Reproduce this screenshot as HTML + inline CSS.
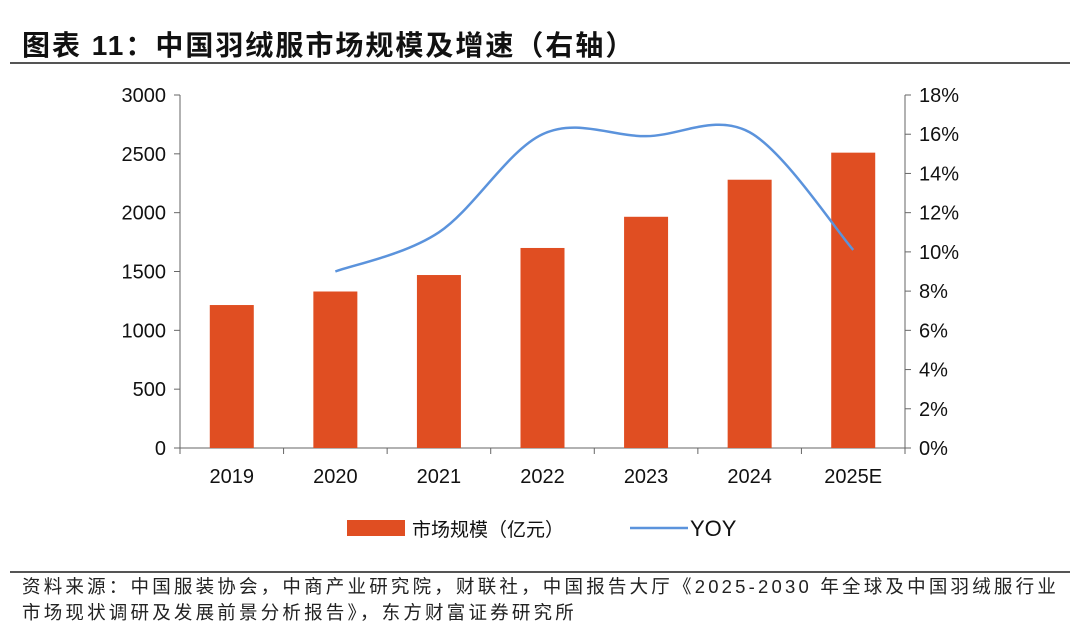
<!DOCTYPE html>
<html><head><meta charset="utf-8">
<style>
html,body{margin:0;padding:0;background:#fff;}
body{width:1080px;height:629px;overflow:hidden;position:relative;font-family:"Liberation Sans","Noto Sans CJK SC",sans-serif;}
#title{position:absolute;left:22px;top:24px;font-size:28px;font-weight:bold;color:#111;letter-spacing:2px;white-space:nowrap;}
.hr{position:absolute;left:10px;width:1060px;background:#555;}
.foot{position:absolute;left:22px;font-size:18.5px;color:#222;letter-spacing:3.2px;white-space:nowrap;}
</style></head><body>
<div id="title">图表 11：中国羽绒服市场规模及增速（右轴）</div>
<div class="hr" style="top:62px;height:2px"></div>
<svg id="chart" width="1080" height="629" style="position:absolute;left:0;top:0"></svg>
<div class="hr" style="top:571px;height:1.5px"></div>
<div class="foot" style="top:573px">资料来源：中国服装协会，中商产业研究院，财联社，中国报告大厅《2025-2030 年全球及中国羽绒服行业</div>
<div class="foot" style="top:599px">市场现状调研及发展前景分析报告》，东方财富证券研究所</div>
<script>
const categories=["2019","2020","2021","2022","2023","2024","2025E"];
const marketSize=[1215,1330,1470,1700,1965,2280,2510];
const yoy=[null,9.0,11.0,16.0,15.9,16.1,10.1];
const leftTicks=[0,500,1000,1500,2000,2500,3000];
const rightTicks=[0,2,4,6,8,10,12,14,16,18];
const NS="http://www.w3.org/2000/svg";
const svg=document.getElementById('chart');
const X0=180,X1=905,Y0=448,Y1=95;
const step=(X1-X0)/categories.length;
const xc=i=>X0+step*(i+0.5);
const yL=v=>Y0-(v/3000)*(Y0-Y1);
const yR=v=>Y0-(v/18)*(Y0-Y1);
function el(t,a,txt){const e=document.createElementNS(NS,t);for(const k in a)e.setAttribute(k,a[k]);if(txt!=null)e.textContent=txt;svg.appendChild(e);return e;}
let ax=el('line',{x1:X0,y1:Y1,x2:X0,y2:Y0,stroke:'#666','stroke-width':1});

ax=el('line',{x1:X1,y1:Y1,x2:X1,y2:Y0,stroke:'#666','stroke-width':1});

ax=el('line',{x1:X0,y1:Y0,x2:X1,y2:Y0,stroke:'#666','stroke-width':1});

leftTicks.forEach(v=>{const y=yL(v);
 el('line',{x1:X0-6,y1:y,x2:X0,y2:y,stroke:'#666'});
 const t=el('text',{x:X0-14,y:y+7,'text-anchor':'end','font-size':20,fill:'#111'},String(v));
 });
rightTicks.forEach(v=>{const y=yR(v);
 el('line',{x1:X1,y1:y,x2:X1+6,y2:y,stroke:'#666'});
 const t=el('text',{x:X1+14,y:y+7,'font-size':20,fill:'#111'},v+'%');
 });
for(let i=0;i<=categories.length;i++){const x=X0+step*i;el('line',{x1:x,y1:Y0,x2:x,y2:Y0+6,stroke:'#666'});}
categories.forEach((c,i)=>{
 const t=el('text',{x:xc(i),y:Y0+35,'text-anchor':'middle','font-size':20,fill:'#111'},c);
 
 const b=el('rect',{x:xc(i)-22,y:yL(marketSize[i]),width:44,height:Y0-yL(marketSize[i]),fill:'#E04E22'});
 
});
const pts=[];yoy.forEach((v,i)=>{if(v!=null)pts.push([xc(i),yR(v)]);});
let d='M'+pts[0][0]+','+pts[0][1];
for(let i=0;i<pts.length-1;i++){
 const p0=pts[Math.max(0,i-1)],p1=pts[i],p2=pts[i+1],p3=pts[Math.min(pts.length-1,i+2)];
 const c1=[p1[0]+(p2[0]-p0[0])/6,p1[1]+(p2[1]-p0[1])/6];
 const c2=[p2[0]-(p3[0]-p1[0])/6,p2[1]-(p3[1]-p1[1])/6];
 d+=` C${c1[0]},${c1[1]} ${c2[0]},${c2[1]} ${p2[0]},${p2[1]}`;
}
const ln=el('path',{d:d,fill:'none',stroke:'#5B93DC','stroke-width':2.5});

const lr=el('rect',{x:347,y:520,width:58,height:16,fill:'#E04E22'});

const lt=el('text',{x:412,y:536,'font-size':19,fill:'#111'},'市场规模（亿元）');

const ll=el('line',{x1:630,y1:528,x2:688,y2:528,stroke:'#5B93DC','stroke-width':2.5});

const lt2=el('text',{x:690,y:536,'font-size':22,fill:'#111'},'YOY');

</script>
</body></html>
